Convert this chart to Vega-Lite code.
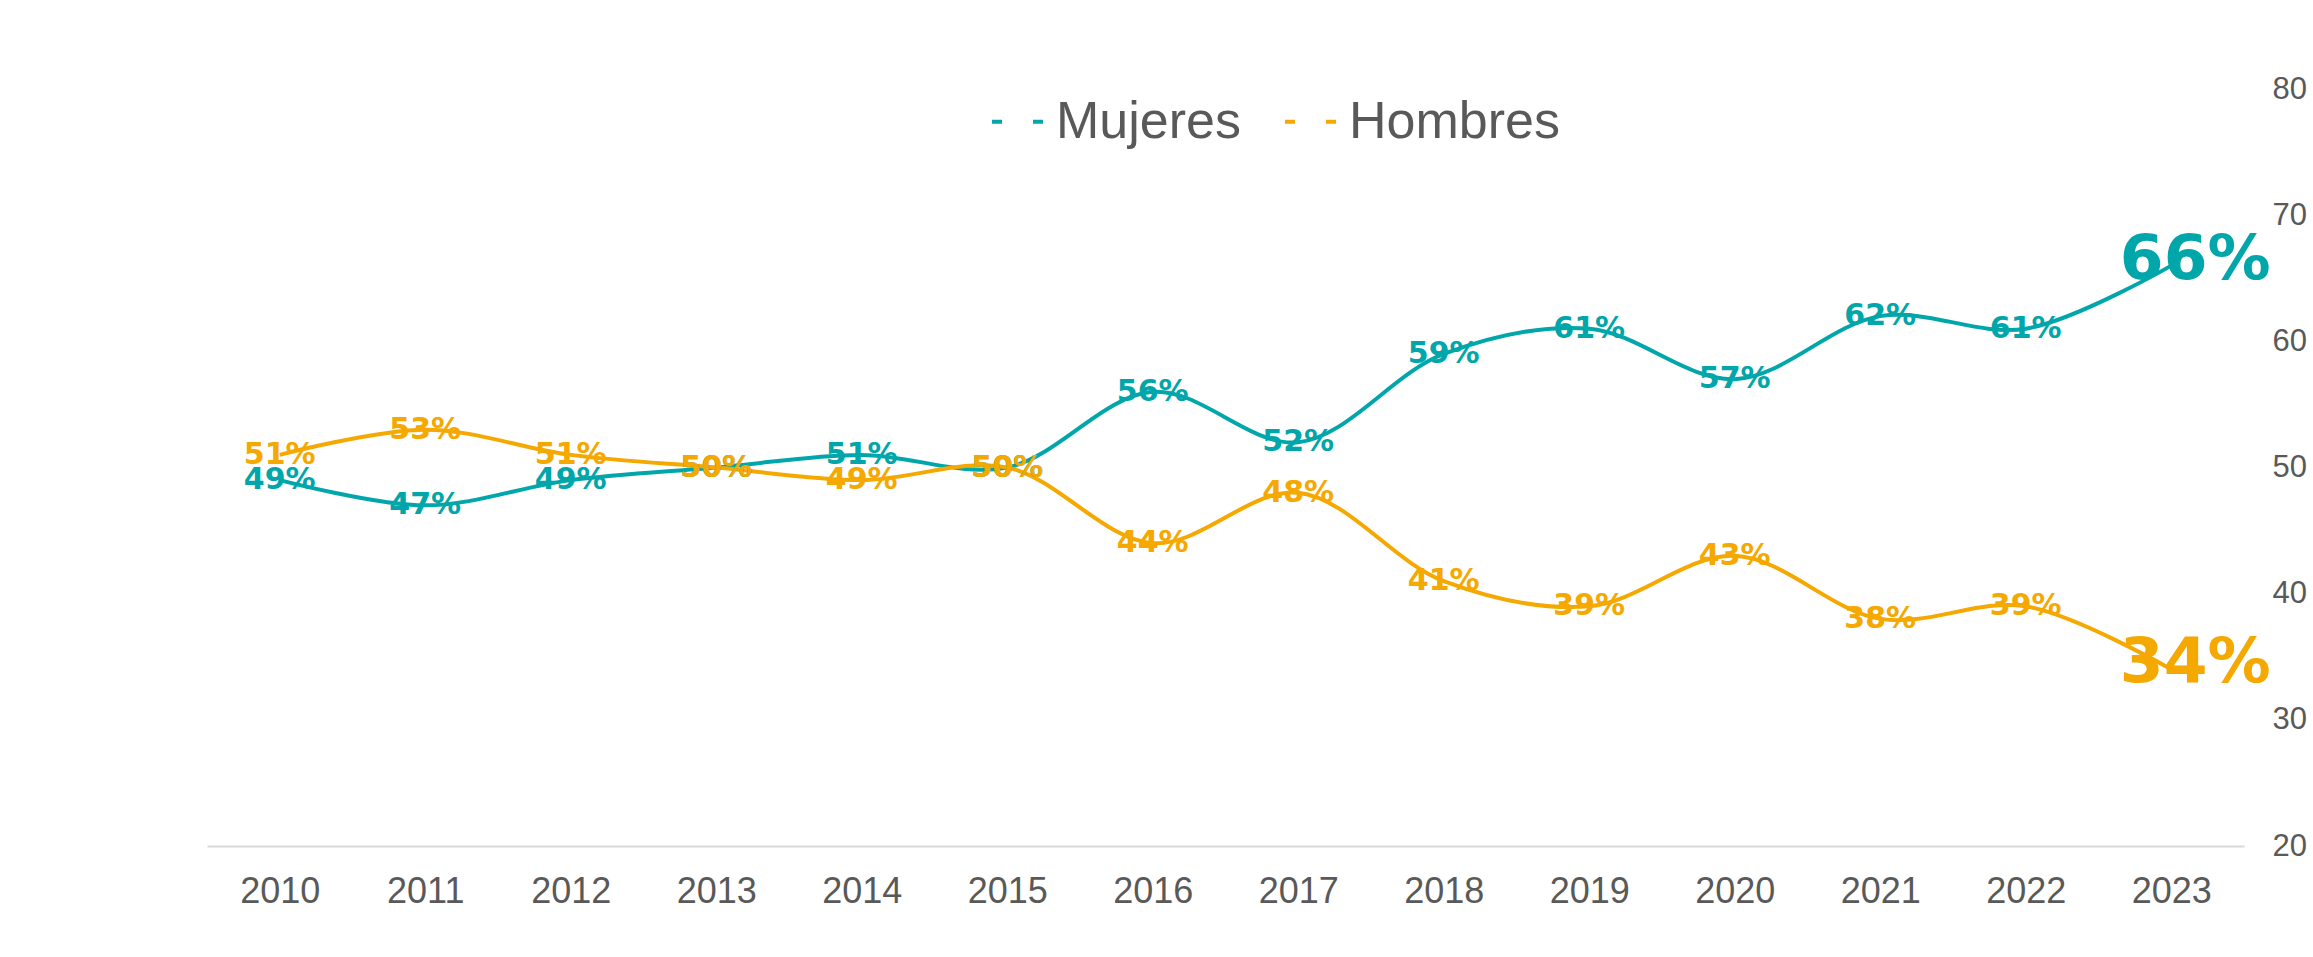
{
  "$schema": "https://vega.github.io/schema/vega-lite/v6.json",
  "autosize": {"type": "none"},
  "padding": {"left": 207, "top": 89, "right": 69, "bottom": 111},
  "width": 2037,
  "height": 757,
  "background": "white",
  "config": {"view": {"stroke": null}, "font": "Liberation Sans"},
  "data": {
    "values": [
      {"year": "2010", "sexo": "Mujeres", "value": 0.49},
      {"year": "2011", "sexo": "Mujeres", "value": 0.47},
      {"year": "2012", "sexo": "Mujeres", "value": 0.49},
      {"year": "2013", "sexo": "Mujeres", "value": 0.50},
      {"year": "2014", "sexo": "Mujeres", "value": 0.51},
      {"year": "2015", "sexo": "Mujeres", "value": 0.50},
      {"year": "2016", "sexo": "Mujeres", "value": 0.56},
      {"year": "2017", "sexo": "Mujeres", "value": 0.52},
      {"year": "2018", "sexo": "Mujeres", "value": 0.59},
      {"year": "2019", "sexo": "Mujeres", "value": 0.61},
      {"year": "2020", "sexo": "Mujeres", "value": 0.57},
      {"year": "2021", "sexo": "Mujeres", "value": 0.62},
      {"year": "2022", "sexo": "Mujeres", "value": 0.61},
      {"year": "2023", "sexo": "Mujeres", "value": 0.66},
      {"year": "2010", "sexo": "Hombres", "value": 0.51},
      {"year": "2011", "sexo": "Hombres", "value": 0.53},
      {"year": "2012", "sexo": "Hombres", "value": 0.51},
      {"year": "2013", "sexo": "Hombres", "value": 0.50},
      {"year": "2014", "sexo": "Hombres", "value": 0.49},
      {"year": "2015", "sexo": "Hombres", "value": 0.50},
      {"year": "2016", "sexo": "Hombres", "value": 0.44},
      {"year": "2017", "sexo": "Hombres", "value": 0.48},
      {"year": "2018", "sexo": "Hombres", "value": 0.41},
      {"year": "2019", "sexo": "Hombres", "value": 0.39},
      {"year": "2020", "sexo": "Hombres", "value": 0.43},
      {"year": "2021", "sexo": "Hombres", "value": 0.38},
      {"year": "2022", "sexo": "Hombres", "value": 0.39},
      {"year": "2023", "sexo": "Hombres", "value": 0.34}
    ]
  },
  "encoding": {
    "x": {
      "field": "year",
      "type": "ordinal",
      "sort": null,
      "axis": {
        "title": null,
        "labelAngle": 0,
        "labelFont": "Liberation Sans",
        "labelFontSize": 36,
        "labelColor": "#595959",
        "labelPadding": 28,
        "ticks": false,
        "tickSize": 0,
        "domainColor": "#D9D9D9",
        "domainWidth": 2,
        "grid": false
      }
    },
    "y": {
      "field": "value",
      "type": "quantitative",
      "scale": {"domain": [0.2, 0.8], "nice": false, "zero": false},
      "axis": {
        "orient": "right",
        "title": null,
        "values": [0.2, 0.3, 0.4, 0.5, 0.6, 0.7, 0.8],
        "labelExpr": "format(datum.value*100, 'd')",
        "labelFont": "Liberation Sans",
        "labelFontSize": 31,
        "labelColor": "#595959",
        "labelPadding": 28,
        "domain": false,
        "ticks": false,
        "tickSize": 0,
        "grid": false
      }
    },
    "color": {
      "field": "sexo",
      "type": "nominal",
      "scale": {"domain": ["Mujeres", "Hombres"], "range": ["#00A6AA", "#F5A800"]},
      "legend": {
        "orient": "none",
        "legendX": 783,
        "legendY": 3,
        "direction": "horizontal",
        "title": null,
        "symbolType": "stroke",
        "symbolSize": 3025,
        "symbolStrokeWidth": 4,
        "symbolDash": [10, 31],
        "labelFont": "Liberation Sans",
        "labelFontSize": 52,
        "labelColor": "#595959",
        "labelOffset": 7,
        "labelLimit": 0,
        "columnPadding": 36,
        "padding": 0
      }
    }
  },
  "layer": [
    {"mark": {"type": "line", "interpolate": "catmull-rom", "strokeWidth": 4}},
    {
      "transform": [{"filter": "datum.year != '2023'"}],
      "mark": {"type": "text", "font": "DejaVu Sans", "fontWeight": "bold", "fontSize": 30, "baseline": "middle", "align": "center"},
      "encoding": {"text": {"field": "value", "format": ".0%"}}
    },
    {
      "transform": [{"filter": "datum.year == '2023'"}],
      "mark": {"type": "text", "font": "DejaVu Sans", "fontWeight": "bold", "fontSize": 63, "baseline": "middle", "align": "center", "dx": 24, "dy": -6},
      "encoding": {"text": {"field": "value", "format": ".0%"}}
    }
  ]
}
